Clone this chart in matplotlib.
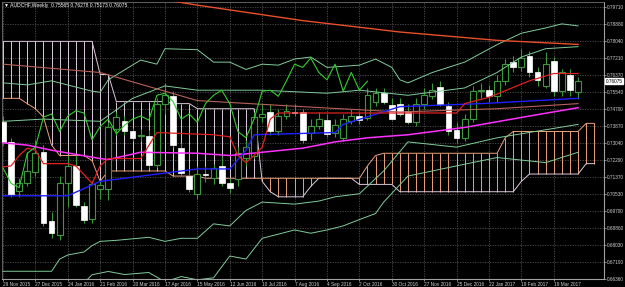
import numpy as np
import matplotlib.pyplot as plt
from matplotlib.patches import Rectangle
import matplotlib.transforms as mtransforms

plt.rcParams['font.family'] = ['Liberation Sans', 'DejaVu Sans']

# weekly AUDCHF candles, bar 0 = 29 Nov 2015
opens = [0.7405, 0.7309, 0.7069, 0.7105, 0.7161, 0.7258, 0.6921, 0.6850, 0.7105, 0.7191,
         0.6993, 0.6932, 0.7079, 0.7079, 0.7370, 0.7410, 0.7360, 0.7339, 0.7339, 0.7197,
         0.7497, 0.7533, 0.7278, 0.7141, 0.7054, 0.7151, 0.7130, 0.7191, 0.7105, 0.7125,
         0.7232, 0.7242, 0.7431, 0.7456, 0.7360, 0.7436, 0.7456, 0.7456, 0.7355, 0.7385,
         0.7416, 0.7355, 0.7329, 0.7410, 0.7436, 0.7426, 0.7507, 0.7548, 0.7492, 0.7497,
         0.7462, 0.7405, 0.7497, 0.7533, 0.7579, 0.7487, 0.7365, 0.7329, 0.7421, 0.7558,
         0.7563, 0.7533, 0.7609, 0.7701, 0.7675, 0.7731, 0.7650, 0.7584, 0.7706, 0.7558,
         0.7640, 0.75565]
highs = [0.7436, 0.7329, 0.7130, 0.7258, 0.7319, 0.7293, 0.6962, 0.7141, 0.7242, 0.7242,
         0.7013, 0.7115, 0.7115, 0.7405, 0.7456, 0.7436, 0.7375, 0.7370, 0.7365, 0.7523,
         0.7599, 0.7558, 0.7304, 0.7166, 0.7191, 0.7191, 0.7202, 0.7242, 0.7130, 0.7283,
         0.7319, 0.7456, 0.7497, 0.7497, 0.7472, 0.7497, 0.7497, 0.7472, 0.7421, 0.7456,
         0.7446, 0.7421, 0.7446, 0.7472, 0.7456, 0.7574, 0.7574, 0.7574, 0.7523, 0.7523,
         0.7497, 0.7523, 0.7574, 0.7599, 0.7609, 0.7507, 0.7405, 0.7446, 0.7584, 0.7599,
         0.7589, 0.7640, 0.7716, 0.7731, 0.7767, 0.7757, 0.7675, 0.7752, 0.7726, 0.7665,
         0.7665, 0.76278]
lows = [0.7293, 0.7039, 0.7039, 0.7090, 0.7141, 0.6896, 0.6835, 0.6825, 0.6988, 0.6988,
        0.6911, 0.6911, 0.7028, 0.7023, 0.7344, 0.7344, 0.7314, 0.7314, 0.7181, 0.7181,
        0.7446, 0.7283, 0.7141, 0.7064, 0.7028, 0.7110, 0.7100, 0.7090, 0.7059, 0.7090,
        0.7191, 0.7232, 0.7405, 0.7344, 0.7344, 0.7421, 0.7436, 0.7304, 0.7319, 0.7370,
        0.7334, 0.7334, 0.7314, 0.7395, 0.7395, 0.7416, 0.7487, 0.7497, 0.7416, 0.7436,
        0.7395, 0.7385, 0.7472, 0.7518, 0.7487, 0.7344, 0.7304, 0.7314, 0.7405, 0.7523,
        0.7507, 0.7507, 0.7589, 0.7650, 0.7655, 0.7630, 0.7584, 0.7574, 0.7533, 0.7533,
        0.7533, 0.75173]
closes = [0.7309, 0.7054, 0.7105, 0.7166, 0.7253, 0.6911, 0.6860, 0.7105, 0.7191, 0.6998,
          0.6926, 0.7100, 0.7095, 0.7380, 0.7431, 0.7360, 0.7329, 0.7344, 0.7197, 0.7497,
          0.7538, 0.7293, 0.7156, 0.7079, 0.7151, 0.7146, 0.7181, 0.7105, 0.7084, 0.7253,
          0.7283, 0.7431, 0.7446, 0.7360, 0.7436, 0.7462, 0.7451, 0.7319, 0.7385, 0.7421,
          0.7349, 0.7390, 0.7421, 0.7436, 0.7416, 0.7538, 0.7548, 0.7507, 0.7421, 0.7446,
          0.7405, 0.7497, 0.7538, 0.7563, 0.7497, 0.7360, 0.7329, 0.7421, 0.7558, 0.7563,
          0.7533, 0.7609, 0.7691, 0.7675, 0.7721, 0.7650, 0.7614, 0.7691, 0.7558, 0.7650,
          0.7563, 0.76075]

# ichimoku cloud spans (bars 0..73)
span_a = [0.7523, 0.7523, 0.7523, 0.7497, 0.7472, 0.7431, 0.7293, 0.7242, 0.7242, 0.7242,
          0.7242, 0.7217, 0.7115, 0.7166, 0.7166, 0.7166, 0.7166, 0.7166, 0.7166, 0.7166,
          0.7166, 0.7141, 0.7141, 0.7141, 0.7141, 0.7130, 0.7130, 0.7130, 0.7130, 0.7130,
          0.7130, 0.7130, 0.7130, 0.7130, 0.7130, 0.7130, 0.7130, 0.7130, 0.7130, 0.7130,
          0.7130, 0.7130, 0.7130, 0.7130, 0.7130, 0.7191, 0.7242, 0.7253, 0.7253, 0.7253,
          0.7253, 0.7253, 0.7253, 0.7253, 0.7253, 0.7253, 0.7253, 0.7253, 0.7253, 0.7253,
          0.7253, 0.7253, 0.7329, 0.7360, 0.7360, 0.7360, 0.7360, 0.7360, 0.7360, 0.7360,
          0.7360, 0.7360, 0.7400, 0.7400]
span_b = [0.7803, 0.7803, 0.7803, 0.7803, 0.7803, 0.7803, 0.7803, 0.7803, 0.7803, 0.7803,
          0.7803, 0.7803, 0.7640, 0.7640, 0.7507, 0.7507, 0.7507, 0.7507, 0.7507, 0.7507,
          0.7507, 0.7497, 0.7497, 0.7497, 0.7472, 0.7472, 0.7472, 0.7472, 0.7472, 0.7472,
          0.7472, 0.7472, 0.7115, 0.7064, 0.7039, 0.7039, 0.7039, 0.7039, 0.7090, 0.7130,
          0.7130, 0.7130, 0.7130, 0.7130, 0.7100, 0.7100, 0.7100, 0.7100, 0.7100, 0.7064,
          0.7064, 0.7064, 0.7064, 0.7064, 0.7064, 0.7064, 0.7064, 0.7064, 0.7064, 0.7064,
          0.7064, 0.7064, 0.7064, 0.7064, 0.7115, 0.7151, 0.7151, 0.7151, 0.7151, 0.7151,
          0.7151, 0.7151, 0.7202, 0.7202]

tenkan_idx = [0, 1, 2, 3, 4, 5, 8, 9, 11, 12, 13, 17, 19, 26, 28, 29, 30, 31, 32, 33, 34, 56, 57, 60, 65, 68, 71]
tenkan = [0.7186, 0.7191, 0.7242, 0.7278, 0.7268, 0.7202, 0.7202, 0.7191, 0.7105, 0.7191,
          0.7227, 0.7227, 0.7355, 0.7344, 0.7334, 0.7242, 0.7207, 0.7242, 0.7283, 0.7421,
          0.7451, 0.7451, 0.7497, 0.7528, 0.7609, 0.7645, 0.7645]
kijun_idx = [0, 8, 12, 24, 28, 30, 31, 41, 42, 49, 59, 71]
kijun = [0.7044, 0.7044, 0.7115, 0.7176, 0.7176, 0.7268, 0.7344, 0.7355, 0.7395, 0.7482, 0.7497, 0.7523]

ma_long_idx = [15, 20, 24, 37, 49, 61, 71]
ma_long = [0.8040, 0.8007, 0.7981, 0.7905, 0.7849, 0.7808, 0.7788]
ma_mid_idx = [0, 12, 24, 37, 49, 61, 71]
ma_mid = [0.7691, 0.7650, 0.7512, 0.7482, 0.7456, 0.7472, 0.7497]
ma_pink_idx = [0, 3, 6, 12, 13, 17, 24, 28, 32, 37, 41, 45, 50, 57, 65, 71]
ma_pink = [0.7304, 0.7293, 0.7268, 0.7227, 0.7222, 0.7258, 0.7253, 0.7242, 0.7258, 0.7278,
           0.7309, 0.7329, 0.7344, 0.7380, 0.7436, 0.7477]

bb_up2_idx = [0, 3, 6, 11, 12, 13, 17, 19, 20, 24, 26, 28, 30, 32, 34, 36, 38, 40, 44, 46, 48, 49, 50, 53, 57, 61, 64, 67, 69, 71]
bb_up2 = [0.7599, 0.7589, 0.7609, 0.7558, 0.7553, 0.7614, 0.7711, 0.7691, 0.7767, 0.7762,
          0.7701, 0.7701, 0.7665, 0.7691, 0.7686, 0.7716, 0.7726, 0.7675, 0.7686, 0.7716,
          0.7675, 0.7614, 0.7599, 0.7650, 0.7701, 0.7787, 0.7843, 0.7869, 0.7889, 0.7879]
bb_up1_idx = [0, 5, 12, 16, 20, 24, 32, 40, 44, 50, 57, 61, 64, 67, 71]
bb_up1 = [0.7410, 0.7421, 0.7410, 0.7523, 0.7584, 0.7563, 0.7563, 0.7548, 0.7563, 0.7538,
          0.7574, 0.7650, 0.7726, 0.7767, 0.7777]
bb_lo1_idx = [0, 6, 7, 8, 10, 11, 12, 14, 18, 20, 22, 24, 26, 28, 30, 32, 36, 39, 41, 44, 47, 50, 56, 61, 71]
bb_lo1 = [0.6673, 0.6673, 0.6733, 0.6753, 0.6768, 0.6799, 0.6820, 0.6825, 0.6840, 0.6820,
          0.6835, 0.6835, 0.6906, 0.6896, 0.6972, 0.7013, 0.7003, 0.7018, 0.7039, 0.7054,
          0.7166, 0.7309, 0.7283, 0.7329, 0.7395]
bb_lo2_idx = [8, 10, 11, 13, 15, 18, 20, 22, 24, 26, 28, 30, 32, 36, 38, 40, 42, 44, 46, 47, 50, 56, 61, 67, 71]
bb_lo2 = [0.6590, 0.6616, 0.6656, 0.6672, 0.6657, 0.6667, 0.6621, 0.6647, 0.6631, 0.6641,
          0.6748, 0.6733, 0.6835, 0.6876, 0.6860, 0.6876, 0.6896, 0.6927, 0.6957, 0.7013,
          0.7141, 0.7191, 0.7232, 0.7207, 0.7258]

price_labels = ['0.79710', '0.78880', '0.78040', '0.77210', '0.76370', '0.75540', '0.74700',
                '0.73870', '0.73040', '0.72200', '0.71370', '0.70530', '0.69700', '0.68860',
                '0.68030', '0.67190', '0.66360']
date_labels = ['29 Nov 2015', '27 Dec 2015', '24 Jan 2016', '21 Feb 2016', '20 Mar 2016',
               '17 Apr 2016', '15 May 2016', '12 Jun 2016', '10 Jul 2016', '7 Aug 2016',
               '4 Sep 2016', '2 Oct 2016', '30 Oct 2016', '27 Nov 2016', '25 Dec 2016',
               '22 Jan 2017', '19 Feb 2017', '19 Mar 2017']
date_idx = list(range(0, 72, 4))
title = 'AUDCHF,Weekly  0.75565 0.76278 0.75173 0.76075'
last_price = 0.76075

fig = plt.figure(figsize=(6.25, 2.87), dpi=100, facecolor='black')
ax = fig.add_axes([2 / 625, 8 / 287, 602 / 625, 277 / 287])
ax.set_facecolor('black')
ax.set_xlim(-0.12, 74.2)
ax.set_ylim(0.6635, 0.79965)

price_ticks = [float(p) for p in price_labels]
grid_kw = dict(color='#505050', lw=0.6, ls=(0, (1.5, 1.5)), zorder=0)
for p in price_ticks:
    ax.axhline(p, **grid_kw)
for i in date_idx:
    ax.axvline(i, **grid_kw)

# cloud hatching
thistle = '#dcc8dc'
sandy = '#eca07a'
for i in range(len(span_a)):
    a, b = span_a[i], span_b[i]
    col = thistle if b > a else sandy
    ax.vlines(i, min(a, b), max(a, b), color=col, lw=0.7, zorder=1)
cx = np.arange(len(span_a))
ax.plot(cx, span_b, color=thistle, lw=0.7, zorder=1)
ax.plot(cx, span_a, color=sandy, lw=0.7, zorder=1)

# candles
wick = '#3a983a'
bw = 0.72
for i in range(len(opens)):
    o, h, l, c = opens[i], highs[i], lows[i], closes[i]
    ax.vlines(i, l, h, color=wick, lw=0.8, zorder=3)
    lo, hi = min(o, c), max(o, c)
    if c >= o:
        r = Rectangle((i - bw / 2, lo), bw, max(hi - lo, 0.0002), fc='black', ec=wick, lw=0.8, zorder=3.1)
    else:
        r = Rectangle((i - bw / 2, lo), bw, max(hi - lo, 0.0002), fc='white', ec='white', lw=0.5, zorder=3.1)
    ax.add_patch(r)

# indicator lines
bb_col = '#7fcc9a'
ax.plot(bb_up2_idx, bb_up2, color=bb_col, lw=0.7, zorder=4)
ax.plot(bb_up1_idx, bb_up1, color=bb_col, lw=0.7, zorder=4)
ax.plot(bb_lo1_idx, bb_lo1, color=bb_col, lw=0.7, zorder=4)
ax.plot(bb_lo2_idx, bb_lo2, color=bb_col, lw=0.7, zorder=4)
ax.plot(ma_long_idx, ma_long, color='#e8502a', lw=1.0, zorder=4)
ax.plot(ma_mid_idx, ma_mid, color='#b86058', lw=0.8, zorder=4)
ax.plot(ma_pink_idx, ma_pink, color='#ff30ff', lw=1.1, zorder=4)
ax.plot(kijun_idx, kijun, color='#2020ff', lw=1.0, zorder=4)
ax.plot(tenkan_idx, tenkan, color='#e02020', lw=0.9, zorder=4)
ax.plot(range(len(closes) - 26), closes[26:], color='#32cd32', lw=0.8, zorder=4)

# axes look: thin frame like the terminal window
for s in ['top', 'left']:
    ax.spines[s].set_color('#707070')
    ax.spines[s].set_linewidth(0.6)
for s in ['right', 'bottom']:
    ax.spines[s].set_color('#a0a0a0')
    ax.spines[s].set_linewidth(0.8)
ax.yaxis.tick_right()
ax.set_yticks(price_ticks, price_labels)
ax.set_xticks(date_idx, date_labels)
for lab in ax.get_xticklabels():
    lab.set_ha('left')
ax.tick_params(axis='both', colors='#a0a0a0', labelcolor='#d0d0d0', labelsize=3.4,
               length=1.5, width=0.6)
ax.tick_params(axis='x', pad=0.6)
ax.tick_params(axis='y', pad=0.8)

# current price box
trans = mtransforms.blended_transform_factory(ax.transAxes, ax.transData)
ax.text(1.003, last_price, '%.5f' % last_price, transform=trans, ha='left', va='center',
        fontsize=3.4, color='black', clip_on=False,
        bbox=dict(boxstyle='square,pad=0.12', fc='white', ec='white'))

fig.text(4 / 625, 1 - 6 / 287, '\u25bc ' + title, color='white', fontsize=3.6, va='center')

fig.savefig('out.png', dpi=100, facecolor='black')
